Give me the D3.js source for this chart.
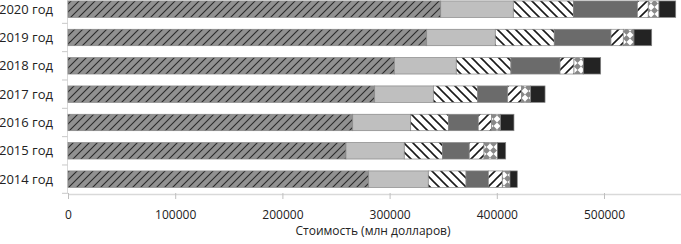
<!DOCTYPE html>
<html>
<head>
<meta charset="utf-8">
<script src="https://cdn.jsdelivr.net/npm/d3@7"></script>
<style>
html,body{margin:0;padding:0;background:#fff;}
svg{display:block;}
text{font-family:"Open Sans",sans-serif;fill:#222;}
</style>
</head>
<body>
<svg id="chart" width="681" height="244"></svg>
<script>
// ---- data ----
const years = ["2020 год","2019 год","2018 год","2017 год","2016 год","2015 год","2014 год"];
const s1 = [347700, 334600, 304400, 286100, 265600, 259300, 280500];
const s2 = [67700, 64000, 57800, 54700, 54100, 54400, 55600];
const s3 = [56000, 55000, 51000, 41400, 35100, 35500, 35200];
const s4 = [59700, 52900, 45800, 28000, 27900, 25100, 20800];
const s5 = [10200, 11500, 13000, 13000, 12500, 13800, 13000];
const s6 = [10000, 10000, 8700, 8400, 8400, 12400, 7200];
const s7 = [15600, 16500, 16200, 13400, 12400, 7800, 6800];
const xTicks = [0, 100000, 200000, 300000, 400000, 500000];
const xTitle = "Стоимость (млн долларов)";

const seriesKeys = ["s1","s2","s3","s4","s5","s6","s7"];
const seriesVals = [s1,s2,s3,s4,s5,s6,s7];
const table = years.map((y,i)=>{const o={year:y}; seriesKeys.forEach((k,j)=>o[k]=seriesVals[j][i]); return o;});

const svg = d3.select("#chart");
const defs = svg.append("defs");

// patterns
function linePattern(id, bg, dir, spacing, sw, color){
  const p = defs.append("pattern").attr("id",id).attr("patternUnits","userSpaceOnUse")
    .attr("width",spacing).attr("height",spacing);
  p.append("rect").attr("width",spacing).attr("height",spacing).attr("fill",bg);
  const s = spacing;
  if(dir==="up"){
    p.append("path").attr("d",`M0,${s} L${s},0 M${-s/2},${s/2} L${s/2},${-s/2} M${s/2},${s*1.5} L${s*1.5},${s/2}`)
      .attr("stroke",color).attr("stroke-width",sw);
  } else {
    p.append("path").attr("d",`M0,0 L${s},${s} M${-s/2},${s/2} L${s/2},${s*1.5} M${s/2},${-s/2} L${s*1.5},${s/2}`)
      .attr("stroke",color).attr("stroke-width",sw);
  }
}
linePattern("p1","#919191","up",8,1.1,"#2a2a2a");
linePattern("p3","#ffffff","down",9,1.6,"#1a1a1a");
linePattern("p5","#ffffff","up",9,1.6,"#1a1a1a");
// diamond checker
(function(){
  const s=7;
  const p = defs.append("pattern").attr("id","p6").attr("patternUnits","userSpaceOnUse")
    .attr("width",s).attr("height",s);
  p.append("rect").attr("width",s).attr("height",s).attr("fill","#ffffff");
  p.append("path").attr("d",`M${s/2},0 L${s},${s/2} L${s/2},${s} L0,${s/2} Z`).attr("fill","#888888");
})();

const fills = ["url(#p1)","#bfbfbf","url(#p3)","#6b6b6b","url(#p5)","url(#p6)","#232323"];

const x = d3.scaleLinear().domain([0,600000]).range([68, 68+6*107.2]);
const y = d3.scaleBand().domain(years).range([-5, 193.3]).paddingInner(0.42).paddingOuter(0.21);

const stack = d3.stack().keys(seriesKeys)(table);

// y axis line
svg.append("line").attr("x1",67.5).attr("x2",67.5).attr("y1",-5).attr("y2",193.8)
  .attr("stroke","#d9d9d9").attr("stroke-width",1);
// y ticks at band boundaries
const step = y.step();
const boundaries = years.map(yr => y(yr) - step*y.paddingInner()/2).concat([y(years[years.length-1]) + y.bandwidth() + step*y.paddingInner()/2]);
svg.append("g").selectAll("line").data(boundaries).join("line")
  .attr("x1",62).attr("x2",67.5).attr("y1",d=>d).attr("y2",d=>d)
  .attr("stroke","#c8c8c8").attr("stroke-width",1);

// bars
svg.append("g").selectAll("g").data(stack).join("g")
  .attr("fill",(d,i)=>fills[i])
  .selectAll("rect").data(d=>d).join("rect")
  .attr("x",d=>x(d[0]))
  .attr("width",d=>x(d[1])-x(d[0]))
  .attr("y",d=>y(d.data.year))
  .attr("height",y.bandwidth())
  .attr("stroke","#858585").attr("stroke-width",0.7);

// category labels
svg.append("g").selectAll("text").data(years).join("text")
  .attr("x",53).attr("y",d=>y(d)+y.bandwidth()/2)
  .attr("dy","0.35em").attr("text-anchor","end")
  .attr("font-size",13).text(d=>d);

// x axis
const xAxis = d3.axisBottom(x).tickValues(xTicks).tickFormat(d3.format("d")).tickSize(5).tickSizeOuter(0).tickPadding(11);
const gx = svg.append("g").attr("transform","translate(0,194)").call(xAxis);
gx.select(".domain").attr("stroke","#d9d9d9").attr("stroke-width",1.6);
gx.selectAll(".tick line").attr("stroke","#bfbfbf").attr("y1",-1);
gx.selectAll(".tick text").attr("font-family","Open Sans, sans-serif").attr("font-size",12).attr("fill","#222");

// x title
svg.append("text").attr("x",373).attr("y",231).attr("dy","0.35em")
  .attr("text-anchor","middle").attr("font-size",12).text(xTitle);
</script>
</body>
</html>
